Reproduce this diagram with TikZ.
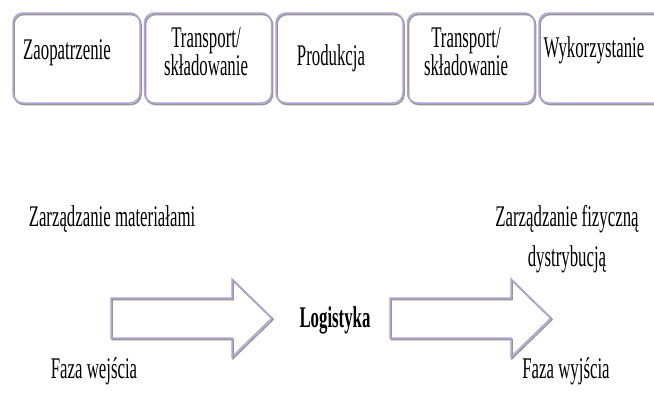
\documentclass[tikz,border=0pt]{standalone}
\usepackage{fontspec}
\setmainfont{Liberation Serif}[FakeStretch=0.56]
\usepackage{tikz}
\usetikzlibrary{positioning}

\definecolor{lavender}{RGB}{178,162,210}
\definecolor{shadowgray}{RGB}{150,150,150}

\tikzset{
  edge/.style={draw=lavender, line width=1.5pt, rounded corners=10pt,
    preaction={draw=shadowgray, line width=1.5pt, transform canvas={xshift=1pt, yshift=-1.5pt}}},
  stage/.style={edge, rectangle, minimum width=127pt, minimum height=90pt, inner sep=0pt},
  txt/.style={font=\fontsize{30}{28}\selectfont, inner sep=0pt, align=center, anchor=base},
  pics/fatarrow/.style={code={
    \draw[edge, rounded corners=0pt, line join=miter]
      (0,-20) -- (121,-20) -- (121,-39) -- (161,0) -- (121,39) -- (121,20) -- (0,20) -- cycle;
  }}
}

\begin{document}
\begin{tikzpicture}[x=1pt, y=-1pt, node distance=3pt]
  \useasboundingbox (0,0) rectangle (654,394);
  %--- Stages
    \node[stage] (zaop) at (76.5,58) {};
    \node[stage, right=of zaop] (trans1) {};
    \node[stage, right=of trans1] (prod) {};
    \node[stage, right=of prod] (trans2) {};
    \node[stage, right=of trans2, minimum width=140pt] (wyk) {};
  %--- Stage labels
    \node[txt] (zaopT) at (67,59) {Zaopatrzenie};
    \node[txt] (trans1T) at (206,75) {Transport/\\składowanie};
    \node[txt] (prodT) at (331,65) {Produkcja};
    \node[txt] (trans2T) at (466,75) {Transport/\\składowanie};
    \node[txt] (wykT) at (594,57) {Wykorzystanie};
  %--- Flow arrows
    \pic at (111,318) {fatarrow};
    \pic at (390,318) {fatarrow};
  %--- Phases
    \node[txt] (matT) at (112,226) {Zarządzanie materiałami};
    \node[txt, font=\fontsize{30}{40}\selectfont] (distT) at (567,266) {Zarządzanie fizyczną\\dystrybucją};
    \node[txt, font=\fontsize{30}{28}\selectfont\bfseries] (logT) at (335,327) {Logistyka};
    \node[txt] (inT) at (94,378) {Faza wejścia};
    \node[txt] (outT) at (566,378) {Faza wyjścia};
\end{tikzpicture}
\end{document}
